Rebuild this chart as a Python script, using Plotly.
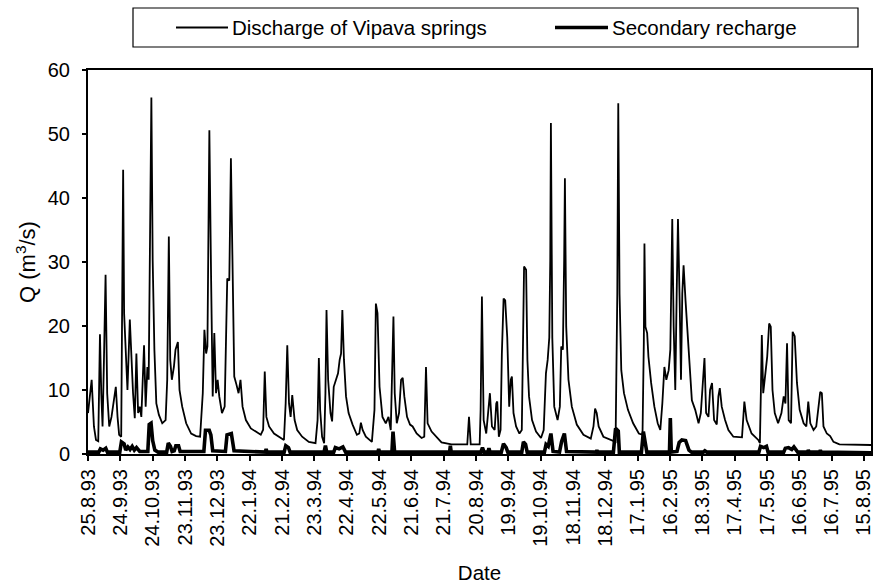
import pandas as pd
import plotly.graph_objects as go

# ---------------- data ----------------
start_date = "1993-08-25"

tick_labels = ["25.8.93", "24.9.93", "24.10.93", "23.11.93", "23.12.93", "22.1.94",
               "21.2.94", "23.3.94", "22.4.94", "22.5.94", "21.6.94", "21.7.94",
               "20.8.94", "19.9.94", "19.10.94", "18.11.94", "18.12.94", "17.1.95",
               "16.2.95", "18.3.95", "17.4.95", "17.5.95", "16.6.95", "16.7.95",
               "15.8.95"]

# Discharge of Vipava springs: day offset from start, Q (m3/s)
discharge_day = [
    0, 3.4, 5.5, 7.4, 9.5, 11.1, 12.3, 13.5, 14.8, 16.3, 17.8, 19.7, 21.8, 23.4, 25.8, 27.4,
    28.9, 30.8, 31.7, 32.6, 33.5, 35.1, 36.6, 38.8, 40.3, 41.8, 43.4, 44.9, 46.5, 48.0, 49.5,
    51.1, 52.0, 53.5, 55.1, 56.3, 57.5, 58.8, 60.0, 61.6, 63.4, 65.8, 68.9, 72.0, 73.5, 75.0,
    76.3, 77.8, 79.7, 81.2, 83.4, 84.9, 87.4, 91.1, 95.7, 100.3, 104.0, 106.5, 108.0, 109.6,
    110.8, 112.0, 112.6, 114.2, 115.7, 117.2, 118.8, 120.3, 121.8, 124.3, 126.8, 129.2, 131.1,
    132.6, 134.1, 135.7, 137.8, 139.7, 141.5, 143.4, 146.5, 151.1, 155.7, 160.3, 162.5, 164.0,
    165.5, 168.0, 172.6, 177.2, 181.8, 183.4, 184.9, 186.5, 188.0, 189.5, 191.7, 194.1, 198.7,
    204.9, 211.1, 213.0, 214.2, 215.4, 217.2, 219.1, 220.3, 221.3, 222.8, 225.0, 226.5, 228.0,
    230.1, 232.0, 233.5, 234.8, 236.0, 237.5, 239.4, 241.8, 245.5, 249.5, 251.7, 253.2, 254.8,
    257.8, 263.4, 265.8, 267.1, 268.6, 270.5, 273.2, 276.3, 278.8, 280.9, 282.5, 283.4, 284.6,
    286.5, 288.6, 290.5, 292.0, 293.5, 296.0, 298.8, 301.2, 304.9, 309.5, 312.0, 313.6, 315.1,
    318.8, 323.4, 328.0, 337.2, 351.9, 353.5, 355.1, 363.4, 364.3, 365.5, 367.1, 369.5, 371.7,
    372.9, 374.8, 377.3, 378.8, 379.7, 381.2, 382.8, 384.0, 385.6, 387.1, 389.0, 390.8, 392.3,
    393.3, 394.8, 397.2, 400.3, 402.5, 403.7, 404.6, 406.5, 407.7, 409.2, 412.0, 415.7, 420.3,
    422.8, 424.9, 426.5, 428.0, 428.9, 429.5, 430.8, 432.6, 435.7, 437.8, 439.1, 440.6, 441.8,
    442.5, 443.7, 445.8, 448.9, 453.5, 459.7, 466.5, 469.0, 470.5, 472.0, 473.8, 478.2, 484.9,
    489.5, 491.1, 492.0, 493.2, 494.8, 497.3, 501.0, 505.8, 511.1, 514.5, 515.7, 516.3, 517.2,
    518.8, 520.0, 522.5, 525.5, 528.6, 531.0, 532.9, 534.8, 536.6, 538.8, 540.3, 541.6, 542.1,
    543.4, 544.9, 546.2, 547.4, 549.0, 550.2, 551.4, 552.6, 554.4, 556.3, 558.8, 560.3, 563.4,
    566.5, 568.6, 570.5, 572.0, 573.5, 575.7, 577.2, 579.0, 580.9, 583.4, 584.9, 586.2, 588.0,
    591.1, 594.2, 598.8, 606.8, 608.0, 609.0, 611.1, 615.7, 621.9, 623.4, 624.3, 625.2, 626.5,
    628.0, 630.2, 632.0, 633.5, 635.1, 637.2, 640.3, 643.4, 645.5, 647.1, 648.6, 650.1, 652.3,
    653.8, 655.7, 657.8, 660.3, 664.0, 666.5, 668.3, 670.2, 673.2, 675.7, 677.5, 679.4, 680.9,
    682.4, 685.5, 688.6, 691.7, 697.2, 727.4]
discharge_q = [
    6.4, 11.6, 4.3, 2.2, 2.0, 18.7, 9.5, 4.3, 14.7, 28.0, 9.5, 4.3, 5.8, 7.4, 10.5, 5.8,
    3.0, 2.7, 25.0, 44.4, 22.0, 16.8, 10.0, 21.0, 14.7, 9.5, 5.6, 15.7, 6.4, 7.4, 5.8,
    13.6, 17.0, 7.4, 13.6, 11.6, 38.0, 55.7, 30.3, 16.3, 7.9, 6.1, 4.8, 5.3, 11.6, 34.0,
    14.7, 11.6, 13.6, 16.3, 17.5, 10.0, 7.4, 4.8, 3.2, 2.8, 2.7, 9.5, 19.4, 15.7,
    16.8, 40.7, 50.6, 27.7, 9.0, 18.9, 9.5, 11.6, 9.0, 6.4, 7.4, 27.4, 27.1,
    46.2, 25.0, 12.1, 10.8, 9.5, 11.6, 7.4, 5.3, 4.0, 3.5, 3.0, 3.8, 12.9,
    5.8, 4.3, 3.2, 2.7, 2.2, 7.9, 17.0, 7.9, 5.8, 9.2, 5.3, 3.75, 2.7,
    1.9, 1.7, 5.3, 15.0, 6.9, 2.7, 1.7, 9.5, 22.5, 11.6, 6.4, 5.1, 10.5,
    11.6, 12.6, 14.7, 15.7, 22.5, 14.7, 9.0, 6.4, 4.6, 3.0, 3.2, 4.9, 3.75,
    2.7, 1.9, 6.9, 23.5, 22.0, 10.5, 5.8, 4.8, 5.8, 3.75, 14.7, 21.5, 9.5,
    4.8, 6.4, 11.6, 11.9, 9.0, 5.8, 4.6, 4.3, 3.2, 2.5, 2.7, 13.6, 4.8,
    3.5, 2.7, 1.8, 1.5, 1.5, 5.8, 1.5, 1.5, 6.9, 24.6, 5.3, 3.2, 6.9,
    9.5, 4.3, 3.75, 7.9, 8.2, 2.7, 3.75, 15.7, 24.3, 24.0, 18.2, 7.4, 11.6,
    12.1, 6.4, 4.3, 3.2, 3.75, 17.3, 29.3, 28.8, 14.7, 9.0, 5.3, 3.5, 2.5,
    3.75, 12.6, 14.7, 18.2, 30.3, 51.7, 18.2, 7.4, 5.3, 7.4, 16.8, 16.3, 30.3,
    43.1, 19.9, 11.6, 7.4, 4.6, 3.0, 2.4, 4.3, 7.1, 6.4, 4.3, 2.7, 2.2,
    1.9, 25.0, 54.8, 25.0, 13.1, 9.5, 6.9, 4.8, 3.2, 3.0, 17.3, 32.9, 19.9,
    18.9, 15.2, 11.1, 7.4, 4.8, 3.75, 7.9, 13.6, 11.6, 13.1, 16.3, 30.3, 36.7,
    19.9, 10.0, 25.0, 36.7, 23.5, 11.6, 25.0, 29.5, 24.0, 18.9, 11.6, 8.4, 6.9,
    4.8, 6.4, 11.6, 15.0, 6.4, 5.8, 10.0, 11.1, 5.3, 4.6, 9.0, 10.3, 7.4,
    5.3, 3.75, 2.7, 2.6, 5.8, 8.2, 5.3, 3.2, 2.2, 1.7, 9.5, 18.6, 9.5,
    12.1, 15.2, 20.4, 19.9, 10.0, 6.4, 4.8, 6.4, 9.0, 7.9, 17.3, 5.3, 4.8,
    19.1, 18.4, 11.1, 6.9, 4.8, 4.3, 8.2, 4.8, 3.75, 4.3, 6.9, 9.7, 9.5,
    4.3, 3.2, 2.8, 1.9, 1.5, 1.4]

# Secondary recharge: day offset from start, Q (m3/s)
recharge_day = [
    0, 10, 11.5, 14, 16.5, 18, 29.5, 31, 33.5, 35, 37, 39, 41, 43, 45, 48, 55.5, 56.8, 58.5,
    60, 62, 65, 73, 74.5, 76.5, 78, 80, 81.5, 84, 85.5, 107.5, 109, 112.5, 114, 115.7, 127.5,
    129, 133, 135.5, 164.5, 165.3, 166, 182, 183.5, 186, 187.5, 219, 220.3, 221.5, 228, 229.5,
    233, 236.5, 239, 269, 269.7, 270.5, 282, 283, 284.5, 335.5, 336.2, 337, 364.5, 366, 367.5,
    371, 372, 373, 383.5, 385.5, 388, 389.5, 402.5, 404, 406, 407.5, 423.5, 425, 427, 429.5,
    431.5, 437.5, 439.5, 442, 444, 471.5, 472.2, 473, 487.5, 489.5, 492, 493, 513.5, 515.3,
    517.3, 518.5, 539.5, 540.3, 541.2, 546.5, 548.5, 551, 554.5, 557.6, 560, 571, 572.3, 574,
    622.5, 624, 627, 629.5, 631, 645.5, 647, 650, 653, 655, 658.5, 667.5, 668.3, 669.2, 678.8,
    679.5, 680.3, 727.4]
recharge_q = [
    0.3, 0.3, 0.8, 0.6, 0.9, 0.3, 0.3, 1.9, 1.6, 0.6, 1.1, 0.7, 1.2, 0.6, 1.0, 0.4, 0.4, 4.6, 4.8,
    2.1, 0.6, 0.3, 0.3, 1.7, 1.2, 0.4, 0.5, 1.3, 1.3, 0.4, 0.4, 3.7, 3.7, 3.0, 0.5, 0.4,
    3.0, 3.2, 0.5, 0.3, 0.8, 0.3, 0.3, 1.3, 1.0, 0.3, 0.3, 1.3, 0.3, 0.3, 1.0,
    0.8, 1.1, 0.3, 0.3, 0.8, 0.3, 0.3, 3.5, 0.3, 0.3, 1.3, 0.3, 0.3, 1.0, 0.3,
    0.3, 0.9, 0.3, 0.3, 1.6, 1.0, 0.3, 0.3, 1.9, 1.5, 0.3, 0.3, 1.5, 1.2, 3.2,
    0.4, 0.3, 2.0, 3.2, 0.4, 0.3, 0.6, 0.3, 0.3, 4.0, 3.6, 0.3, 0.3, 3.5,
    1.5, 0.3, 0.3, 5.6, 0.3, 0.4, 1.8, 2.2, 2.1, 0.6, 0.3, 0.3, 0.5, 0.3,
    0.3, 1.2, 1.0, 1.2, 0.3, 0.3, 0.9, 1.0, 0.7, 1.1, 0.3, 0.3, 0.6, 0.3, 0.3,
    0.6, 0.3, 0.2]

series_names = ["Discharge of Vipava springs", "Secondary recharge"]

# ---------------- build figure ----------------
t0 = pd.Timestamp(start_date)
discharge_x = [t0 + pd.Timedelta(days=d) for d in discharge_day]
recharge_x = [t0 + pd.Timedelta(days=d) for d in recharge_day]
tick_vals = [pd.to_datetime(s, format="%d.%m.%y") for s in tick_labels]

FONT = "Liberation Sans, Arial, sans-serif"
W, H = 876, 585
ML, MR, MT, MB = 88, 5, 70, 131
PW, PH = W - ML - MR, H - MT - MB

fig = go.Figure()
fig.add_trace(go.Scatter(x=discharge_x, y=discharge_q, mode="lines", name=series_names[0],
                         line=dict(color="black", width=1.8), showlegend=False))
fig.add_trace(go.Scatter(x=recharge_x, y=recharge_q, mode="lines", name=series_names[1],
                         line=dict(color="black", width=3.6), showlegend=False))


def px_x(p):
    return (p - ML) / PW


def px_y(p):
    return (H - MB - p) / PH


# manual legend (box, line samples and labels)
shapes = [
    dict(type="rect", xref="paper", yref="paper", x0=px_x(133), x1=px_x(858),
         y0=px_y(47), y1=px_y(8), line=dict(color="black", width=1.2), fillcolor="white"),
    dict(type="line", xref="paper", yref="paper", x0=px_x(176), x1=px_x(228),
         y0=px_y(27.5), y1=px_y(27.5), line=dict(color="black", width=1.8)),
    dict(type="line", xref="paper", yref="paper", x0=px_x(555), x1=px_x(608),
         y0=px_y(27.5), y1=px_y(27.5), line=dict(color="black", width=3.6)),
]
annotations = [
    dict(text=series_names[0], xref="paper", yref="paper", x=px_x(230), y=px_y(27.5),
         xanchor="left", yanchor="middle", showarrow=False,
         font=dict(family=FONT, size=20.5, color="black")),
    dict(text=series_names[1], xref="paper", yref="paper", x=px_x(610), y=px_y(27.5),
         xanchor="left", yanchor="middle", showarrow=False,
         font=dict(family=FONT, size=20.5, color="black")),
]

fig.update_layout(
    width=W, height=H,
    margin=dict(l=ML, r=MR, t=MT, b=MB, pad=0),
    paper_bgcolor="white", plot_bgcolor="white",
    font=dict(family=FONT, size=20, color="black"),
    shapes=shapes, annotations=annotations,
    showlegend=False,
)
fig.update_xaxes(
    type="date",
    range=[t0, t0 + pd.Timedelta(days=726.5)],
    tickmode="array", tickvals=tick_vals, ticktext=tick_labels,
    tickangle=-90, ticks="outside", ticklen=5, tickwidth=1.5, tickcolor="black",
    ticklabeloverflow="allow",
    showline=True, linecolor="black", linewidth=2, mirror=True,
    showgrid=False, zeroline=False,
    tickfont=dict(family=FONT, size=20),
    title=dict(text="Date", font=dict(family=FONT, size=20.5), standoff=20),
    automargin=False,
)
fig.update_yaxes(
    range=[0, 60], dtick=10, tick0=0,
    ticks="outside", ticklen=4, tickwidth=1.5, tickcolor="black",
    ticklabelstandoff=8,
    showline=True, linecolor="black", linewidth=2, mirror=True,
    showgrid=False, zeroline=False,
    tickfont=dict(family=FONT, size=20),
    title=dict(text="Q (m<sup>3</sup>/s)", font=dict(family=FONT, size=22), standoff=6),
    automargin=False,
)

fig.write_html("out.html")
